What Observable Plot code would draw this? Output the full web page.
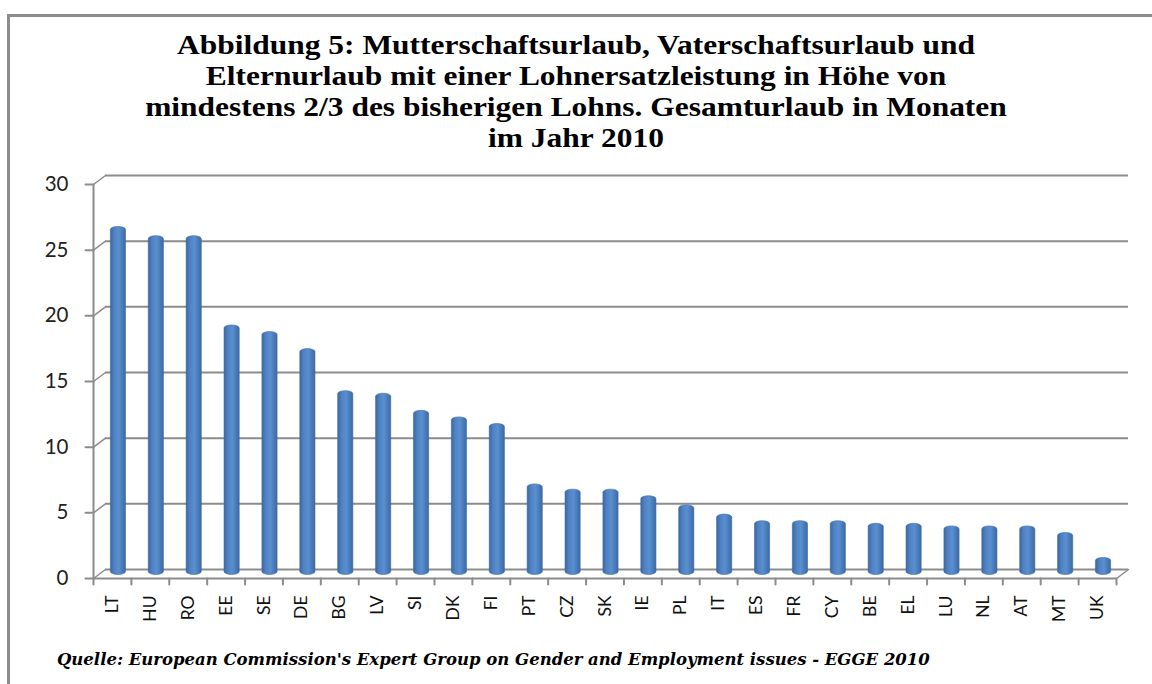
<!DOCTYPE html>
<html>
<head>
<meta charset="utf-8">
<script src="https://cdn.jsdelivr.net/npm/d3@7"></script>
<script src="https://cdn.jsdelivr.net/npm/@observablehq/plot@0.6"></script>
<style>
  html, body { margin: 0; padding: 0; background: #fff; }
  #page { position: relative; width: 1152px; height: 684px; overflow: hidden; }
  #frame { position: absolute; left: 7px; top: 14px; width: 1160px; height: 700px;
           border-left: 3px solid #8c8c8c; border-top: 3px solid #8c8c8c; box-sizing: border-box; }
  #title { position: absolute; left: 0; top: 30px; width: 1152px; text-align: center;
           font-family: "Liberation Serif", "Times New Roman", serif; font-weight: bold;
           font-size: 27px; line-height: 31px; color: #000;
           transform: scaleX(1.165); transform-origin: 576px 0; }
  #chart { position: absolute; left: 0; top: 165px; }
  #caption { position: absolute; left: 57px; top: 650px; white-space: nowrap;
             font-family: "DejaVu Serif", serif; font-style: italic; font-weight: bold;
             font-size: 16.5px; color: #000; }
</style>
</head>
<body>
<div id="page">
  <div id="frame"></div>
  <div id="title">Abbildung 5: Mutterschaftsurlaub, Vaterschaftsurlaub und<br>Elternurlaub mit einer Lohnersatzleistung in Höhe von<br>mindestens 2/3 des bisherigen Lohns. Gesamturlaub in Monaten<br>im Jahr 2010</div>
  <div id="chart"></div>
  <div id="caption">Quelle: European Commission's Expert Group on Gender and Employment issues - EGGE 2010</div>
</div>
<script>
const countries = ["LT","HU","RO","EE","SE","DE","BG","LV","SI","DK","FI","PT","CZ","SK","IE","PL","IT","ES","FR","CY","BE","EL","LU","NL","AT","MT","UK"];
const months = [26.5,25.8,25.8,19.0,18.5,17.2,14.0,13.8,12.5,12.0,11.5,6.9,6.5,6.5,6.0,5.3,4.6,4.1,4.1,4.1,3.9,3.9,3.7,3.7,3.7,3.2,1.3];
const yTicks = [0,5,10,15,20,25,30];

const data = countries.map((c, i) => ({country: c, value: months[i]}));
const first = countries[0], last = countries[countries.length - 1];

const W = 1152, H = 470, mL = 93, mR = 36, mT = 19, mB = 57;
const step = (W - mL - mR) / countries.length;
const depthX = 12, depthY = -9;
const grid = "#8c8c8c";
const lineShape = {draw(context, l) { context.moveTo(0, 0); context.lineTo(0, -l); }};
const diagLen = Math.hypot(depthX, depthY);
const diagAngle = Math.atan2(depthX, -depthY) * 180 / Math.PI;

const chart = Plot.plot({
  width: W, height: H,
  marginLeft: mL, marginRight: mR, marginTop: mT, marginBottom: mB,
  x: {type: "band", domain: countries, paddingInner: 0.6, paddingOuter: 0.3, round: false, axis: null},
  y: {domain: [0, 30], axis: null},
  style: {background: "transparent", overflow: "visible"},
  marks: [
    // back wall gridlines
    Plot.ruleY(yTicks, {y: d => d, dx: depthX, dy: depthY, stroke: grid, strokeWidth: 2}),
    // left wall diagonals
    Plot.vector(yTicks, {x: () => first, y: d => d, dx: -step / 2, length: diagLen, rotate: diagAngle,
      anchor: "start", shape: lineShape, stroke: grid, strokeWidth: 1.5}),
    // right floor diagonal
    Plot.vector([last], {x: d => d, y: () => 0, dx: step / 2, length: diagLen, rotate: diagAngle,
      anchor: "start", shape: lineShape, stroke: grid, strokeWidth: 1.5}),
    // bars (cylinders)
    Plot.barY(data, {x: "country", y: "value", fill: "#4f81bd", rx: 7.5, ry: 3,
      dx: depthX / 2, dy: depthY / 2 + 1}),
    // front y axis line
    Plot.ruleX([first], {x: d => d, y1: () => 0, y2: () => 30, dx: -step / 2, stroke: grid, strokeWidth: 2}),
    // front floor line
    Plot.ruleY([0], {y: d => d, stroke: grid, strokeWidth: 2}),
    // x tick marks at band boundaries
    Plot.vector(countries, {x: d => d, y: () => 0, dx: -step / 2, length: 6, rotate: 180,
      anchor: "start", shape: lineShape, stroke: grid, strokeWidth: 2}),
    Plot.vector([last], {x: d => d, y: () => 0, dx: step / 2, length: 6, rotate: 180,
      anchor: "start", shape: lineShape, stroke: grid, strokeWidth: 2}),
    // y tick marks
    Plot.vector(yTicks, {x: () => first, y: d => d, dx: -step / 2, length: 8, rotate: -90,
      anchor: "start", shape: lineShape, stroke: grid, strokeWidth: 2}),
    // y tick labels
    Plot.text(yTicks, {x: () => first, y: d => d, text: d => String(d), dx: -step / 2 - 25,
      textAnchor: "end", fontSize: 20.5, fill: "#222", fontFamily: "Lato, 'Open Sans', sans-serif"}),
    // x labels
    Plot.text(countries, {x: d => d, y: () => 0, text: d => d, rotate: -90, textAnchor: "end",
      dx: 0, dy: 17, fontSize: 17.5, fill: "#111", fontFamily: "Lato, 'Open Sans', sans-serif"})
  ]
});

const svg = d3.select(chart);
const defs = svg.insert("defs", ":first-child");
const g = defs.append("linearGradient").attr("id", "cyl").attr("x1", "0").attr("x2", "1").attr("y1", "0").attr("y2", "0");
g.append("stop").attr("offset", "0").attr("stop-color", "#3a68a3");
g.append("stop").attr("offset", "0.25").attr("stop-color", "#4f82c2");
g.append("stop").attr("offset", "0.55").attr("stop-color", "#5a8fd0");
g.append("stop").attr("offset", "1").attr("stop-color", "#3c6aa5");
svg.selectAll('g[aria-label="bar"] rect').attr("fill", "url(#cyl)").attr("stroke", "#3d6aa3").attr("stroke-width", 0.6);

document.getElementById("chart").appendChild(chart);
</script>
</body>
</html>
